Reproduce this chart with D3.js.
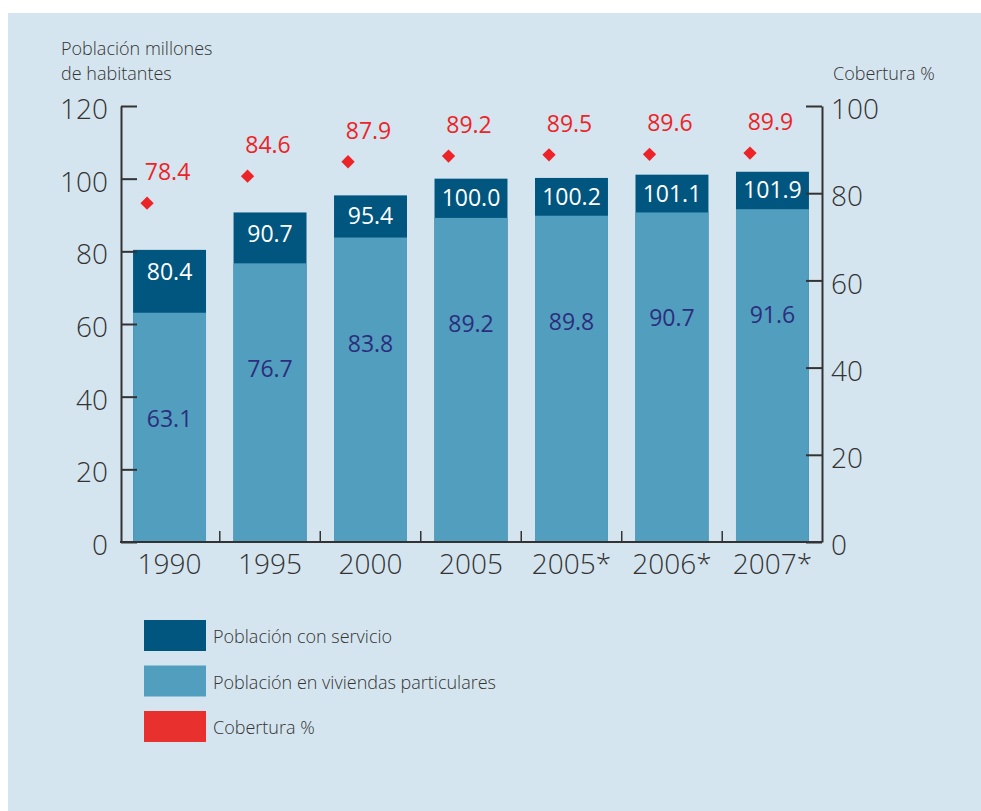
<!DOCTYPE html>
<html>
<head>
<meta charset="utf-8">
<script src="https://cdn.jsdelivr.net/npm/d3@7"></script>
<style>
  body { margin: 0; background: #fff; }
  text { font-family: "Open Sans", "DejaVu Sans", sans-serif; }
</style>
</head>
<body>
<svg id="chart" width="981" height="811"></svg>
<script>
const years = ["1990", "1995", "2000", "2005", "2005*", "2006*", "2007*"];
const poblacionViviendas = [80.4, 90.7, 95.4, 100.0, 100.2, 101.1, 101.9];
const poblacionServicio = [63.1, 76.7, 83.8, 89.2, 89.8, 90.7, 91.6];
const cobertura = [78.4, 84.6, 87.9, 89.2, 89.5, 89.6, 89.9];
const leftTicks = [0, 20, 40, 60, 80, 100, 120];
const rightTicks = [0, 20, 40, 60, 80, 100];

const colors = { dark: "#00567f", light: "#529ebf", red: "#ec2327", navy: "#2b2e7c", ink: "#333333", panel: "#d5e5ef" };

const svg = d3.select("#chart");

// panel background
svg.append("rect")
  .attr("x", 8).attr("y", 13)
  .attr("width", 973).attr("height", 798)
  .attr("fill", colors.panel);

const rows = years.map((y, i) => ({
  year: y,
  total: poblacionViviendas[i],
  served: poblacionServicio[i],
  cov: cobertura[i]
}));

const x = d3.scaleBand()
  .domain(years)
  .range([120, 822])
  .paddingInner(0.274)
  .paddingOuter(0.13);

const yL = d3.scaleLinear().domain([0, 120]).range([542, 106]);
const yR = d3.scaleLinear().domain([0, 100]).range([542, 106]);

// bars
const bars = svg.append("g");
bars.selectAll("rect.total")
  .data(rows)
  .enter().append("rect")
  .attr("class", "total")
  .attr("x", d => x(d.year))
  .attr("y", d => yL(d.total))
  .attr("width", x.bandwidth())
  .attr("height", d => yL(0) - yL(d.total))
  .attr("fill", colors.dark);

bars.selectAll("rect.served")
  .data(rows)
  .enter().append("rect")
  .attr("class", "served")
  .attr("x", d => x(d.year))
  .attr("y", d => yL(d.served))
  .attr("width", x.bandwidth())
  .attr("height", d => yL(0) - yL(d.served))
  .attr("fill", colors.light);

// bar labels
bars.selectAll("text.total")
  .data(rows)
  .enter().append("text")
  .attr("x", d => x(d.year) + x.bandwidth() / 2)
  .attr("y", d => Math.min((yL(d.total) + yL(d.served)) / 2, yL(d.total) + 22) + 8)
  .attr("text-anchor", "middle")
  .attr("fill", "#fff")
  .attr("font-size", 23)
  .text(d => d.total.toFixed(1));

bars.selectAll("text.served")
  .data(rows)
  .enter().append("text")
  .attr("x", d => x(d.year) + x.bandwidth() / 2)
  .attr("y", d => yL(d.served) + 114)
  .attr("text-anchor", "middle")
  .attr("fill", colors.navy)
  .attr("font-size", 23)
  .text(d => d.served.toFixed(1));

// coverage diamonds
const diamond = d3.symbol().type(d3.symbolSquare).size(88);
svg.append("g").selectAll("path")
  .data(rows)
  .enter().append("path")
  .attr("d", diamond)
  .attr("transform", d => `translate(${x(d.year) + 14},${yR(d.cov) + 3}) rotate(45)`)
  .attr("fill", colors.red);

svg.append("g").selectAll("text")
  .data(rows)
  .enter().append("text")
  .attr("x", d => x(d.year) + x.bandwidth() / 2 - 2)
  .attr("y", d => yR(d.cov) - 20)
  .attr("text-anchor", "middle")
  .attr("fill", colors.red)
  .attr("font-size", 23)
  .text(d => d.cov.toFixed(1));

// left axis
const leftAxis = svg.append("g")
  .attr("transform", "translate(121,0)")
  .call(d3.axisLeft(yL).tickValues(leftTicks).tickSize(-16).tickSizeOuter(0).tickPadding(13));

// right axis
const rightAxis = svg.append("g")
  .attr("transform", "translate(822,0)")
  .call(d3.axisRight(yR).tickValues(rightTicks).tickSize(-16).tickSizeOuter(0).tickPadding(9));

[leftAxis, rightAxis].forEach(a => {
  a.selectAll("path, line").attr("stroke", colors.ink).attr("stroke-width", 2);
  a.selectAll("text")
    .attr("fill", colors.ink)
    .attr("font-size", 28)
    .attr("font-weight", 300)
    .attr("dy", "0.45em");
});

// bottom axis
const bottomAxis = svg.append("g")
  .attr("transform", `translate(0,${yL(0)})`)
  .call(d3.axisBottom(x).tickSize(0).tickPadding(12));
bottomAxis.select(".domain").remove();
bottomAxis.selectAll("text")
  .attr("fill", colors.ink)
  .attr("font-size", 28)
  .attr("font-weight", 300)
  .attr("dy", "0.72em");

svg.append("line")
  .attr("x1", 120).attr("x2", 822)
  .attr("y1", yL(0)).attr("y2", yL(0))
  .attr("stroke", colors.ink).attr("stroke-width", 2);

// small separators between bars
const step = x.step();
svg.append("g").selectAll("line")
  .data(years.slice(1))
  .enter().append("line")
  .attr("x1", d => x(d) - (step - x.bandwidth()) / 2)
  .attr("x2", d => x(d) - (step - x.bandwidth()) / 2)
  .attr("y1", yL(0))
  .attr("y2", yL(0) - 11)
  .attr("stroke", colors.ink)
  .attr("stroke-width", 1.5);

// axis titles
const leftTitle = svg.append("text")
  .attr("x", 61).attr("y", 55)
  .attr("fill", colors.ink)
  .attr("font-size", 18)
  .attr("font-weight", 300);
leftTitle.append("tspan").attr("x", 61).text("Población millones");
leftTitle.append("tspan").attr("x", 61).attr("dy", 25).text("de habitantes");

svg.append("text")
  .attr("x", 833).attr("y", 80)
  .attr("fill", colors.ink)
  .attr("font-size", 18)
  .attr("font-weight", 300)
  .text("Cobertura %");

// legend
const legendData = [
  { color: colors.dark, text: "Población con servicio" },
  { color: colors.light, text: "Población en viviendas particulares" },
  { color: "#e8302e", text: "Cobertura %" }
];

const legend = svg.append("g")
  .attr("transform", "translate(144,620)");

const legendItems = legend.selectAll("g")
  .data(legendData)
  .enter().append("g")
  .attr("transform", (d, i) => `translate(0,${i * 45.5})`);

legendItems.append("rect")
  .attr("width", 62)
  .attr("height", 31)
  .attr("fill", d => d.color);

legendItems.append("text")
  .attr("x", 69)
  .attr("y", 23)
  .attr("fill", colors.ink)
  .attr("font-size", 18)
  .attr("font-weight", 300)
  .text(d => d.text);
</script>
</body>
</html>
